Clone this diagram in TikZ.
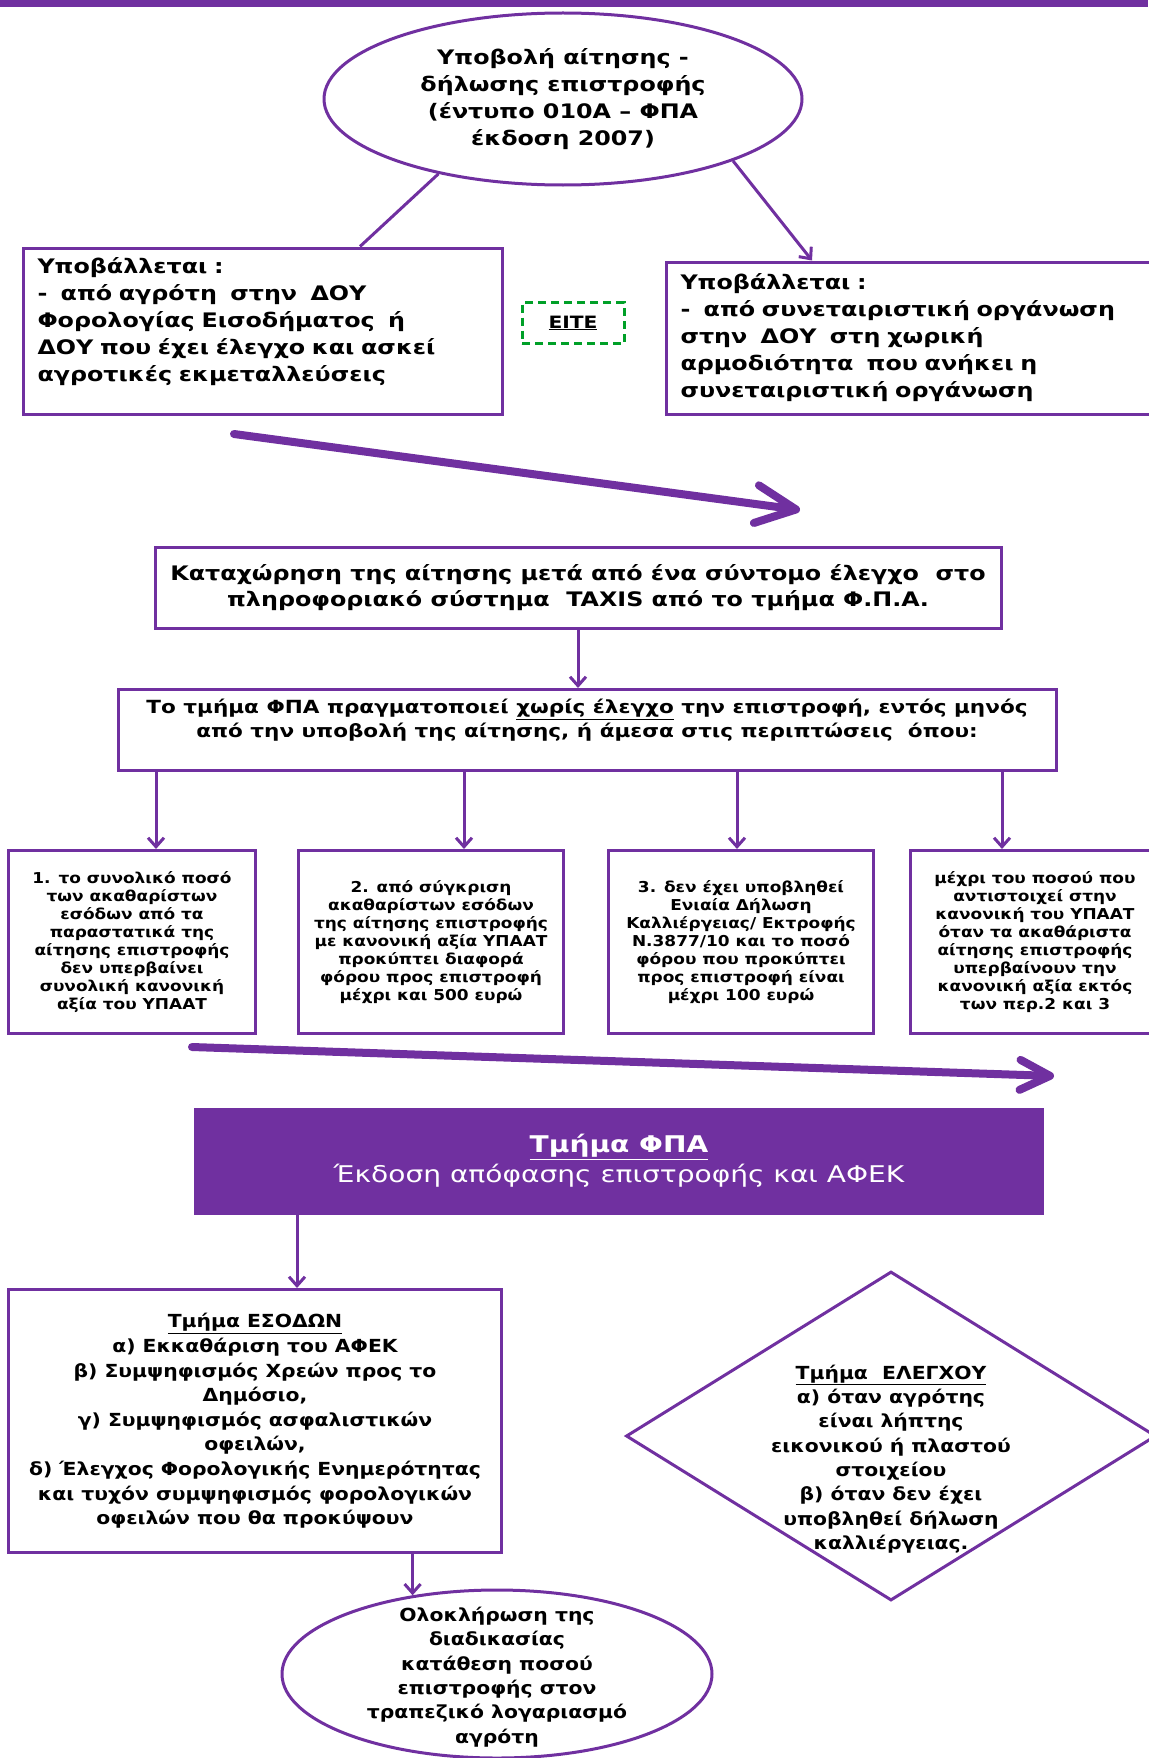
\documentclass[tikz,border=0pt]{standalone}
\usepackage{fontspec}
\setmainfont{DejaVu Sans}
\newfontfamily\fA{DejaVu Sans}[FakeStretch=1.19]
\newfontfamily\fB{DejaVu Sans}[FakeStretch=1.13]
\newfontfamily\fC{DejaVu Sans}[FakeStretch=1.22]
\usetikzlibrary{arrows.meta,shapes.geometric}
\definecolor{vat_purple}{RGB}{112, 48, 160}
\definecolor{vat_green}{RGB}{0, 160, 40}
\tikzstyle{pb}=[rectangle,draw=vat_purple,line width=3pt,fill=white,
  inner sep=0pt,align=center,font=\fA\bfseries\fontsize{20}{27}\selectfont]
\tikzstyle{sb}=[pb,minimum height=183pt,font=\fB\bfseries\fontsize{15}{18}\selectfont]
\tikzstyle{pe}=[ellipse,draw=vat_purple,line width=3pt,inner sep=0pt]
\tikzstyle{tx}=[align=center,inner sep=0pt,font=\fB\bfseries\fontsize{18}{24.4}\selectfont]
\tikzstyle{pl}=[draw=vat_purple,line width=3pt]
\tikzstyle{pa}=[pl,-{Straight Barb[length=9pt,width=16pt]}]
\tikzstyle{big}=[draw=vat_purple,line width=8pt,line cap=round,
  -{Straight Barb[length=30pt,width=30pt,round]}]
\tikzstyle{bigger}=[big,-{Straight Barb[length=40pt,width=38pt,round]}]

\begin{document}
\begin{tikzpicture}[x=1pt,y=-1pt]
        \useasboundingbox (0,0) rectangle (1148,1758);
        \fill[vat_purple] (0,0) rectangle (1148,7);
        \node[pe,minimum width=478pt,minimum height=172pt,align=center,
          font=\fA\bfseries\fontsize{20}{27}\selectfont] (0) at (563,99)
          {Υποβολή αίτησης -\\ δήλωσης επιστροφής\\ (έντυπο 010Α – ΦΠΑ\\ έκδοση 2007)};
        \node[pb,minimum width=479pt,minimum height=166pt] (1) at (263,331) {};
        \node[align=left,text width=451pt,inner sep=0pt,font=\fA\bfseries\fontsize{20}{27}\selectfont] (1t) at (263,322)
          {Υποβάλλεται :\\ -\ \ από αγρότη\ \ στην\ \ ΔΟΥ\\ Φορολογίας Εισοδήματος\ \ ή\\ ΔΟΥ που έχει έλεγχο και ασκεί\\ αγροτικές εκμεταλλεύσεις};
        \node[rectangle,draw=vat_green,line width=3pt,dash pattern=on 8pt off 5pt,
          minimum width=102pt,minimum height=41pt,font=\fA\bfseries\fontsize{17}{20}\selectfont] (2) at (573,323)
          {\underline{ΕΙΤΕ}};
        \node[pb,minimum width=493pt,minimum height=152pt,text width=465pt,align=left] (3) at (913,338)
          {Υποβάλλεται :\\ -\ \ από συνεταιριστική οργάνωση\\ στην\ \ ΔΟΥ\ \ στη χωρική\\ αρμοδιότητα\ \ που ανήκει η\\ συνεταιριστική οργάνωση};
        \node[pb,minimum width=846pt,minimum height=81pt,font=\fA\bfseries\fontsize{20}{26}\selectfont] (4) at (578,588)
          {Καταχώρηση της αίτησης μετά από ένα σύντομο έλεγχο\ \ στο\\ πληροφοριακό σύστημα\ \ TAXIS από το τμήμα Φ.Π.Α.};
        \node[pb,minimum width=938pt,minimum height=81pt] (5) at (587,730) {};
        \node[align=center,inner sep=0pt,font=\fA\bfseries\fontsize{18.1}{23.5}\selectfont] (5t) at (587,720)
          {Το τμήμα ΦΠΑ πραγματοποιεί \underline{χωρίς έλεγχο} την επιστροφή, εντός μηνός\\ από την υποβολή της αίτησης, ή άμεσα στις περιπτώσεις\ \ όπου:};
        \node[sb,minimum width=247pt] (6) at (132,942)
          {1. το συνολικό ποσό\\ των ακαθαρίστων\\ εσόδων από τα\\ παραστατικά της\\ αίτησης επιστροφής\\ δεν υπερβαίνει\\ συνολική κανονική\\ αξία του ΥΠΑΑΤ};
        \node[sb,minimum width=265pt] (7) at (431,942)
          {2. από σύγκριση\\ ακαθαρίστων εσόδων\\ της αίτησης επιστροφής\\ με κανονική αξία ΥΠΑΑΤ\\ προκύπτει διαφορά\\ φόρου προς επιστροφή\\ μέχρι και 500 ευρώ};
        \node[sb,minimum width=265pt] (8) at (741,942)
          {3. δεν έχει υποβληθεί\\ Ενιαία Δήλωση\\ Καλλιέργειας/ Εκτροφής\\ Ν.3877/10 και το ποσό\\ φόρου που προκύπτει\\ προς επιστροφή είναι\\ μέχρι 100 ευρώ};
        \node[sb,minimum width=250pt] (9) at (1035,942)
          {μέχρι του ποσού που\\ αντιστοιχεί στην\\ κανονική του ΥΠΑΑΤ\\ όταν τα ακαθάριστα\\ αίτησης επιστροφής\\ υπερβαίνουν την\\ κανονική αξία εκτός\\ των περ.2 και 3};
        \node[rectangle,fill=vat_purple,text=white,align=center,minimum width=850pt,minimum height=107pt,
          font=\fC\fontsize{23}{30}\selectfont] (10) at (619,1161)
          {\underline{\textbf{Τμήμα ΦΠΑ}}\\ Έκδοση απόφασης επιστροφής και ΑΦΕΚ};
        \node[pb,minimum width=493pt,minimum height=263pt,font=\fB\bfseries\fontsize{18}{24.6}\selectfont] (11) at (255,1421)
          {\underline{Τμήμα ΕΣΟΔΩΝ}\\ α) Εκκαθάριση του ΑΦΕΚ\\ β) Συμψηφισμός Χρεών προς το\\ Δημόσιο,\\ γ) Συμψηφισμός ασφαλιστικών\\ οφειλών,\\ δ) Έλεγχος Φορολογικής Ενημερότητας\\ και τυχόν συμψηφισμός φορολογικών\\ οφειλών που θα προκύψουν};
        \node[diamond,draw=vat_purple,line width=3pt,inner sep=0pt,minimum width=530pt,minimum height=329pt] (12) at (891,1436) {};
        \node[tx,font=\fB\bfseries\fontsize{18}{24.3}\selectfont] (13) at (891,1459)
          {\underline{Τμήμα\ \ ΕΛΕΓΧΟΥ}\\ α) όταν αγρότης\\ είναι λήπτης\\ εικονικού ή πλαστού\\ στοιχείου\\ β) όταν δεν έχει\\ υποβληθεί δήλωση\\ καλλιέργειας.};
        \node[pe,minimum width=430pt,minimum height=168pt] (14) at (497,1674) {};
        \node[tx] (15) at (497,1677)
          {Ολοκλήρωση της\\ διαδικασίας\\ κατάθεση ποσού\\ επιστροφής στον\\ τραπεζικό λογαριασμό\\ αγρότη};
        \coordinate (16) at (234,434);
        \coordinate (17) at (800,510);
        \coordinate (18) at (192,1047);
        \coordinate (19) at (1054,1076);
        \draw[pl] (0.211) to ([xshift=97pt]1.north);
        \draw[pa] (0.340) to ([xshift=-101pt]3.north);
        \draw[bigger] (16) to (17);
        \draw[pa] (4.south) to (4.south |- 5.north);
        \draw[pa] ([xshift=24pt]6.north |- 5.south) to ([xshift=24pt]6.north);
        \draw[pa] ([xshift=33pt]7.north |- 5.south) to ([xshift=33pt]7.north);
        \draw[pa] ([xshift=-4pt]8.north |- 5.south) to ([xshift=-4pt]8.north);
        \draw[pa] ([xshift=-33pt]9.north |- 5.south) to ([xshift=-33pt]9.north);
        \draw[big] (18) to (19);
        \draw[pa] ([xshift=42pt]11.north |- 10.south) to ([xshift=42pt]11.north);
        \draw[pa] (14.137 |- 11.south) to (14.137);
    \end{tikzpicture}
\end{document}
